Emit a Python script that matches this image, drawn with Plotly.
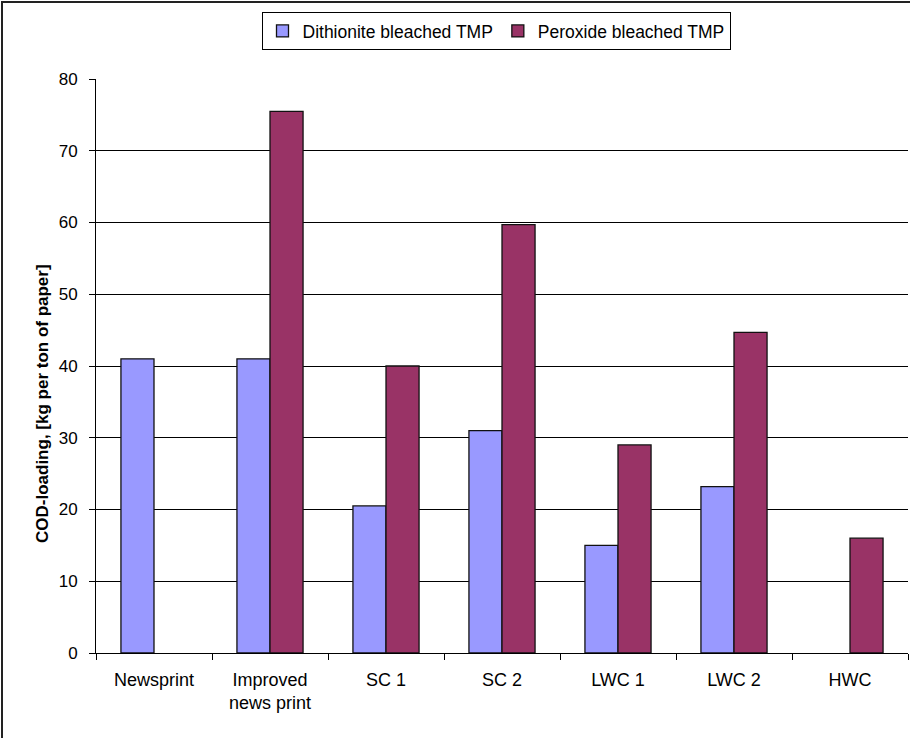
import plotly.graph_objects as go

categories = ["Newsprint", "Improved<br>news print", "SC 1", "SC 2", "LWC 1", "LWC 2", "HWC"]
dithionite = [41, 41, 20.5, 31, 15, 23.2, None]
peroxide = [None, 75.5, 40, 59.7, 29, 44.7, 16]
y_ticks = [0, 10, 20, 30, 40, 50, 60, 70, 80]

W, H = 910, 738
L, R, T, B = 96, 2, 79, 85
pw = W - L - R
ph = H - T - B

fig = go.Figure()
fig.add_trace(go.Bar(x=categories, y=dithionite, name="Dithionite bleached TMP",
                     marker=dict(color="#9999FF", line=dict(color="#111111", width=1.3))))
fig.add_trace(go.Bar(x=categories, y=peroxide, name="Peroxide bleached TMP",
                     marker=dict(color="#993366", line=dict(color="#111111", width=1.3))))

fig.update_layout(
    width=W, height=H,
    margin=dict(l=L, r=R, t=T, b=B, autoexpand=False),
    paper_bgcolor="white", plot_bgcolor="white",
    barmode="group", bargap=0.43, bargroupgap=0,
    font=dict(family="Liberation Sans, Arial, sans-serif", size=17, color="black"),
    showlegend=True,
    legend=dict(orientation="h", x=(496 - L) / pw, xanchor="center",
                y=(H - B - 12) / ph, yanchor="top",
                bordercolor="black", borderwidth=1, bgcolor="white",
                font=dict(size=17.5), itemwidth=30, traceorder="normal"),
    xaxis=dict(showline=True, linecolor="black", linewidth=1,
               ticks="outside", ticklen=6, tickcolor="black", tickson="boundaries",
               tickfont=dict(size=18), showgrid=False, ticklabelstandoff=10),
    yaxis=dict(range=[0, 80], tickvals=y_ticks, showline=True, linecolor="black", linewidth=1,
               ticks="outside", ticklen=6, tickcolor="black",
               showgrid=True, gridcolor="black", gridwidth=1, zeroline=False,
               tickfont=dict(size=17), ticklabelstandoff=8),
    annotations=[dict(text="<b>COD-loading, [kg per ton of paper]</b>", xref="paper", yref="paper",
                      x=(42 - L) / pw, y=(H - B - 404) / ph, xanchor="center", yanchor="middle",
                      textangle=-90, showarrow=False, font=dict(size=17))],
    shapes=[dict(type="rect", xref="paper", yref="paper",
                 x0=(2 - L) / pw, x1=1.2, y0=-0.5, y1=(H - B - 2) / ph,
                 line=dict(color="#222222", width=2), fillcolor="rgba(0,0,0,0)", layer="above")]
)

fig.write_html("out.html", config={"displayModeBar": False},
               post_script="document.body.style.margin='0px';document.body.style.overflow='hidden';")
